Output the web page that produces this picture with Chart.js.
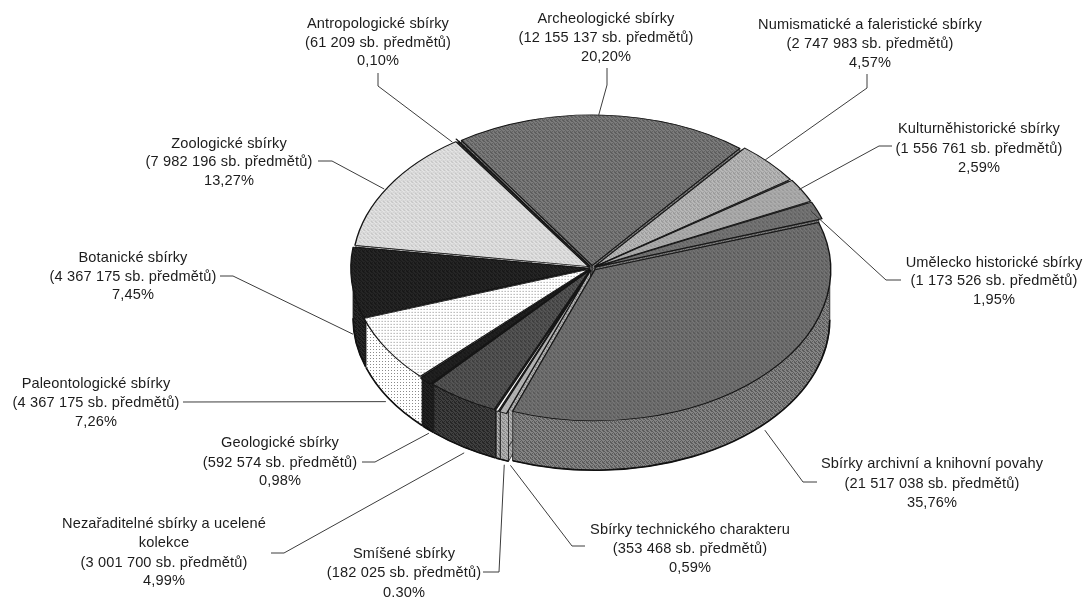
<!DOCTYPE html>
<html lang="cs"><head><meta charset="utf-8">
<style>html,body{margin:0;padding:0;background:#fff}canvas{display:block;filter:blur(0.35px)}</style>
<script src="https://cdn.jsdelivr.net/npm/chart.js@4"></script>
</head><body><canvas id="c" width="1085" height="597"></canvas>
<script>
const categories=["Archeologické sbírky","Numismatické a faleristické sbírky","Kulturněhistorické sbírky","Umělecko historické sbírky","Sbírky archivní a knihovní povahy","Sbírky technického charakteru","Smíšené sbírky","Nezařaditelné sbírky a ucelené|kolekce","Geologické sbírky","Paleontologické sbírky","Botanické sbírky","Zoologické sbírky","Antropologické sbírky"];
const itemCounts=["12 155 137","2 747 983","1 556 761","1 173 526","21 517 038","353 468","182 025","3 001 700","592 574","4 367 175","4 367 175","7 982 196","61 209"];
const shares=[20.20,4.57,2.59,1.95,35.76,0.59,0.30,4.99,0.98,7.26,7.45,13.27,0.10];
// label layout: centre x, y of each line's middle, first leader point, bend, small shift of the pie end
const labelX=[606,870,979,994,932,690,404,164,280,96,133,229,378];
const labelY=[[19,38,57],[25,44,63],[129,149,168],[263,281,300],[464,484,503],[530,549,568],[554,573,593],[524,543,563,581],[443,463,481],[384,403,422],[258,277,295],[144,162,181],[24,43,61]];
const leaderStart=[[607,68],[867,74],[892,146],[901,280],[817,482],[585,546],[483,572],[271,553],[362,462],[183,402],[220,276],[318,161],[378,73]];
const leaderBend=[[607,85],[867,88],[879,146],[886,280],[803,482],[572,546],[499,572],[284,553],[375,462],[183,402],[233,276],[332,161],[378,86]];
const leaderShift=[[-4,0],[-2,-4],[0,-2],[-3,0],[7,2],[6,5],[6,6],[1,6],[1,4],[-3,3],[-1,2],[-5,2],[-6,1]];
const topTones=[["#5a5a5a","#7f7f7f"],["#989898","#bcbcbc"],["#939393","#b4b4b4"],["#5c5c5c","#7c7c7c"],["#555555","#7a7a7a"],["#a6a6a6","#b8b8b8"],["#f2f2f2","#ffffff"],["#3a3a3a","#5a5a5a"],["#161616","#242424"],["#8a8a8a","#ffffff"],["#161616","#282828"],["#c4c4c4","#e8e8e8"],["#222222","#3a3a3a"]];
const sideTones=[["#5a5a5a","#7f7f7f"],["#989898","#bcbcbc"],["#939393","#b4b4b4"],["#5c5c5c","#7c7c7c"],["#5c5c5c","#858585"],["#8a8a8a","#b4b4b4"],["#707070","#b0b0b0"],["#262626","#404040"],["#161616","#242424"],["#8a8a8a","#ffffff"],["#161616","#282828"],["#c4c4c4","#e8e8e8"],["#222222","#3a3a3a"]];
const TILT=0.64, DEPTH=50, OFFSET=16, DOTTED=9;
const BAYER=[[1,0,1,1],[0,1,0,1],[1,1,0,0],[0,1,1,0]];

const cvs=document.getElementById('c');
function pat(t,i,flat){
  const s=document.createElement('canvas');
  const x=s.getContext('2d');
  if(i===DOTTED){
    s.width=s.height=3;x.fillStyle=t[1];x.fillRect(0,0,3,3);x.fillStyle=t[0];x.fillRect(1,1,1,1);
  }else{
    s.width=s.height=4;
    BAYER.forEach((row,y)=>row.forEach((v,c)=>{x.fillStyle=t[v];x.fillRect(c,y,1,1);}));
  }
  const p=cvs.getContext('2d').createPattern(s,'repeat');
  if(flat)p.setTransform(new DOMMatrix().scale(1,1/TILT));
  return p;
}
const topFill=topTones.map((t,i)=>pat(t,i,true));
const sideFill=sideTones.map((t,i)=>pat(t,i,false));

function geo(el){
  const mid=(el.startAngle+el.endAngle)/2, f=OFFSET/4;
  const cx=el.x+Math.cos(mid)*f, cy=el.y+Math.sin(mid)*f*TILT;
  return {mid,cx,cy,r:el.outerRadius,pt:a=>[cx+el.outerRadius*Math.cos(a),cy+el.outerRadius*Math.sin(a)*TILT]};
}
const pie3d={
  id:'pie3d',
  beforeDatasetsDraw(chart){
    const ctx=chart.ctx, arcs=chart.getDatasetMeta(0).data;
    const order=arcs.map((e,i)=>i).sort((a,b)=>Math.sin((arcs[a].startAngle+arcs[a].endAngle)/2)-Math.sin((arcs[b].startAngle+arcs[b].endAngle)/2));
    ctx.save();
    ctx.lineJoin='round';
    order.forEach(i=>{
      const el=arcs[i],g=geo(el);
      [el.startAngle,el.endAngle].forEach(a=>{
        const p=g.pt(a);
        ctx.beginPath();ctx.moveTo(g.cx,g.cy);ctx.lineTo(p[0],p[1]);ctx.lineTo(p[0],p[1]+DEPTH);ctx.lineTo(g.cx,g.cy+DEPTH);ctx.closePath();
        ctx.fillStyle=sideFill[i];ctx.fill();
        ctx.strokeStyle='#1a1a1a';ctx.lineWidth=.8;ctx.stroke();
      });
    });
    order.forEach(i=>{
      const el=arcs[i],g=geo(el);
      [-2*Math.PI,0,2*Math.PI].forEach(sh=>{
        const a0=Math.max(el.startAngle+sh,0),a1=Math.min(el.endAngle+sh,Math.PI);
        if(a1<=a0)return;
        ctx.beginPath();
        ctx.ellipse(g.cx,g.cy,g.r,g.r*TILT,0,a0,a1);
        ctx.ellipse(g.cx,g.cy+DEPTH,g.r,g.r*TILT,0,a1,a0,true);
        ctx.closePath();
        ctx.fillStyle=sideFill[i];ctx.fill();
        ctx.strokeStyle='#1a1a1a';ctx.lineWidth=.8;ctx.stroke();
        ctx.beginPath();
        ctx.ellipse(g.cx,g.cy+DEPTH,g.r,g.r*TILT,0,a1,a0,true);
        ctx.strokeStyle='#111';ctx.lineWidth=1.6;ctx.stroke();
      });
    });
    ctx.restore();
    const a=arcs[0];
    ctx.save();
    ctx.translate(a.x,a.y);ctx.scale(1,TILT);ctx.translate(-a.x,-a.y);
  },
  afterDatasetsDraw(chart){
    chart.ctx.restore();
    const ctx=chart.ctx, arcs=chart.getDatasetMeta(0).data;
    ctx.save();
    arcs.forEach((el,i)=>{
      const g=geo(el),p=g.pt(g.mid);
      const end=[p[0]+leaderShift[i][0],p[1]+leaderShift[i][1]+(Math.sin(g.mid)>-0.1?DEPTH:0)];
      ctx.beginPath();
      ctx.moveTo(leaderStart[i][0],leaderStart[i][1]);
      ctx.lineTo(leaderBend[i][0],leaderBend[i][1]);
      ctx.lineTo(end[0],end[1]);
      ctx.strokeStyle='#3c3c3c';ctx.lineWidth=1;ctx.stroke();
    });
    ctx.font='14.6px "Liberation Sans"';
    ctx.letterSpacing='0.12px';
    ctx.fillStyle='#1c1c1c';ctx.textAlign='center';ctx.textBaseline='middle';
    categories.forEach((c,i)=>{
      const lines=c.split('|').concat(['('+itemCounts[i]+' sb. předmětů)',shares[i].toFixed(2).replace('.',',')+'%']);
      lines.forEach((t,j)=>ctx.fillText(t,labelX[i],labelY[i][j]));
    });
    ctx.restore();
  }
};
new Chart(cvs,{
  type:'pie',
  data:{labels:categories.map(c=>c.replace('|',' ')),datasets:[{data:shares,backgroundColor:topFill,borderColor:'#151515',borderWidth:1.4,offset:OFFSET,borderJoinStyle:'round'}]},
  options:{responsive:false,animation:false,rotation:-33.8,radius:235,
    layout:{padding:{left:99,right:0,top:0,bottom:61}},
    plugins:{legend:{display:false},tooltip:{enabled:false},title:{display:false}}},
  plugins:[pie3d]
});
</script></body></html>
